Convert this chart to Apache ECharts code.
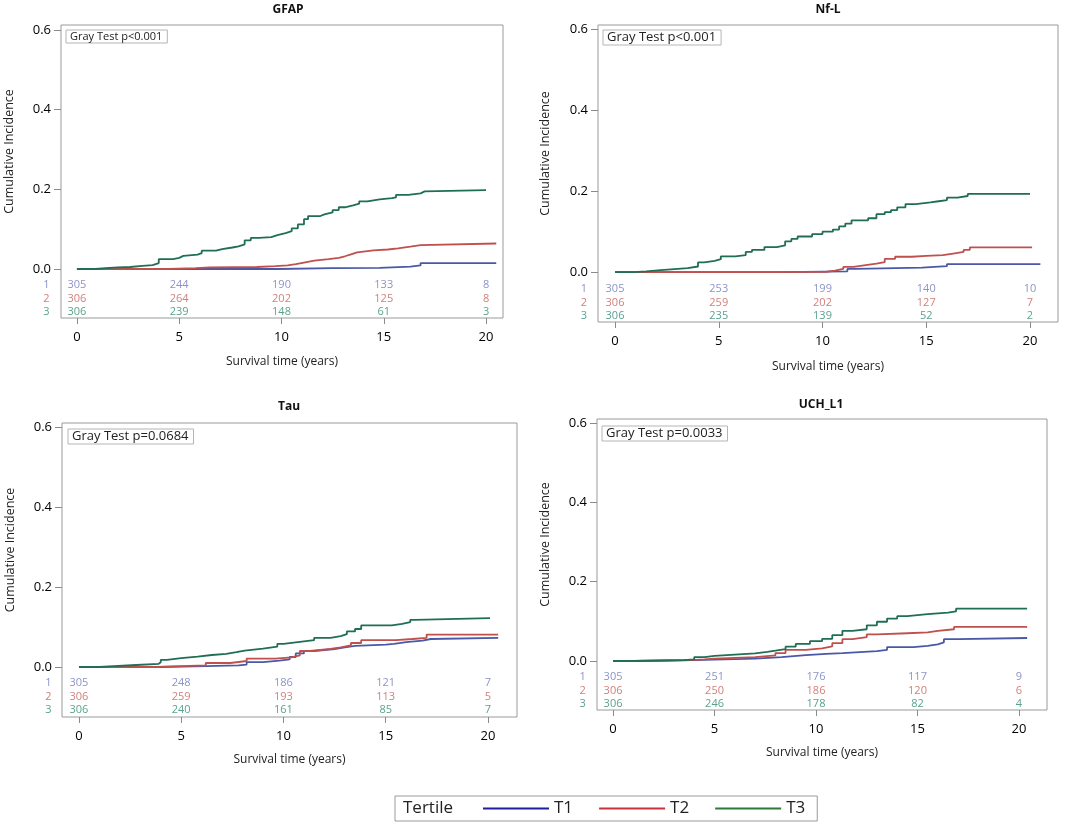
<!DOCTYPE html>
<html lang="en">
<head>
<meta charset="utf-8"/>
<title>Cumulative incidence by tertile</title>
<script src="https://cdn.jsdelivr.net/npm/echarts@6.0.0/dist/echarts.min.js"></script>
<style>
    html, body {
        height: 100%;
        margin: 0;
        background: #fff;
    }

    #chart {
        width: 1080px;
        height: 825px;
    }
</style>
</head>
<body>
<div id="chart"></div>
<script>
    // values: [years, cumulative incidence], each step starts at x
    const tertiles = ["T1", "T2", "T3"];
    const riskTimes = [0, 5, 10, 15, 20];
    const xTicks = [0, 5, 10, 15, 20];
    const yTicks = [0, 0.2, 0.4, 0.6];

    const gfapT1 = [[0, 0], [9.8, 0.002], [12.5, 0.003], [14.8, 0.006], [16.3, 0.009], [16.8, 0.015], [20.5, 0.015]];
    const gfapT2 = [[0, 0], [4.5, 0.002], [5.8, 0.004], [6.5, 0.005], [8.8, 0.007], [9.7, 0.009], [10.3, 0.012],
        [10.7, 0.016], [11.1, 0.021], [11.6, 0.025], [12.3, 0.028], [12.8, 0.032], [13.1, 0.037], [13.4, 0.042],
        [13.7, 0.047], [14.5, 0.049], [15.2, 0.052], [15.7, 0.056], [16.3, 0.06], [16.8, 0.064], [20.5, 0.064]];
    const gfapT3 = [[0, 0], [0.9, 0.002], [1.4, 0.004], [2.0, 0.005], [2.6, 0.008], [3.2, 0.01], [3.7, 0.015],
        [4.0, 0.025], [4.7, 0.028], [5.0, 0.033], [5.2, 0.036], [5.9, 0.04], [6.1, 0.046], [6.8, 0.05],
        [7.1, 0.054], [7.6, 0.057], [7.9, 0.062], [8.2, 0.072], [8.5, 0.078], [8.9, 0.08], [9.5, 0.085],
        [9.8, 0.09], [10.2, 0.095], [10.5, 0.102], [10.8, 0.112], [11.1, 0.125], [11.3, 0.133], [11.9, 0.137],
        [12.1, 0.142], [12.5, 0.148], [12.8, 0.155], [13.1, 0.16], [13.5, 0.164], [13.8, 0.17], [14.2, 0.175],
        [14.8, 0.178], [15.4, 0.18], [15.6, 0.186], [16.2, 0.19], [16.8, 0.195], [17.0, 0.198], [20.0, 0.198]];

    const nflT1 = [[0, 0], [8.0, 0.002], [11.2, 0.008], [11.6, 0.011], [14.8, 0.015], [16.0, 0.02], [20.5, 0.02]];
    const nflT2 = [[0, 0], [7.8, 0.001], [10.2, 0.004], [10.6, 0.008], [11.0, 0.013], [11.5, 0.017], [12.0, 0.021],
        [12.6, 0.025], [13.0, 0.033], [13.5, 0.038], [14.3, 0.04], [15.0, 0.042], [15.8, 0.046], [16.3, 0.05],
        [16.8, 0.055], [17.1, 0.061], [20.1, 0.061]];
    const nflT3 = [[0, 0], [0.9, 0.002], [1.5, 0.005], [2.2, 0.007], [2.7, 0.01], [3.5, 0.014], [4.0, 0.024],
        [4.3, 0.028], [4.8, 0.032], [5.1, 0.039], [5.8, 0.042], [6.3, 0.05], [6.6, 0.055], [7.2, 0.062],
        [7.8, 0.066], [8.2, 0.076], [8.5, 0.082], [8.8, 0.088], [9.5, 0.094], [10.0, 0.1], [10.5, 0.105],
        [10.8, 0.113], [11.1, 0.12], [11.4, 0.128], [12.2, 0.133], [12.6, 0.143], [13.0, 0.148], [13.3, 0.153],
        [13.6, 0.16], [14.0, 0.168], [14.5, 0.172], [15.2, 0.175], [15.6, 0.178], [16.0, 0.184], [16.5, 0.188],
        [17.0, 0.193], [20.0, 0.193]];

    const tauT1 = [[0, 0], [4.0, 0.002], [6.2, 0.004], [7.8, 0.006], [8.2, 0.012], [9.0, 0.016], [9.8, 0.019],
        [10.3, 0.025], [10.6, 0.034], [11.0, 0.04], [11.5, 0.045], [12.5, 0.049], [13.0, 0.053], [13.5, 0.056],
        [15.0, 0.058], [15.4, 0.062], [16.0, 0.066], [16.8, 0.07], [17.2, 0.073], [20.5, 0.073]];
    const tauT2 = [[0, 0], [3.8, 0.002], [5.0, 0.004], [6.2, 0.01], [7.4, 0.015], [8.2, 0.021], [9.6, 0.024],
        [10.4, 0.029], [10.8, 0.04], [11.3, 0.045], [12.3, 0.049], [12.8, 0.054], [13.3, 0.06], [13.8, 0.067],
        [15.5, 0.07], [16.3, 0.073], [17.0, 0.081], [20.5, 0.081]];
    const tauT3 = [[0, 0], [1.0, 0.002], [1.7, 0.005], [2.8, 0.008], [3.9, 0.012], [4.0, 0.018], [4.3, 0.022],
        [5.0, 0.026], [5.8, 0.03], [6.5, 0.033], [7.2, 0.037], [7.7, 0.041], [8.1, 0.046], [9.0, 0.051],
        [9.7, 0.058], [10.0, 0.063], [10.8, 0.067], [11.5, 0.073], [12.3, 0.077], [12.8, 0.082], [13.1, 0.089],
        [13.5, 0.095], [13.8, 0.104], [15.3, 0.108], [15.8, 0.112], [16.2, 0.118], [16.4, 0.122], [20.1, 0.122]];

    const uchT1 = [[0, 0], [1.0, 0.002], [4.0, 0.004], [5.5, 0.006], [7.0, 0.01], [8.3, 0.015], [9.5, 0.018],
        [10.5, 0.02], [11.3, 0.025], [13.0, 0.028], [13.5, 0.035], [14.8, 0.038], [15.5, 0.042], [16.0, 0.047],
        [16.3, 0.055], [17.0, 0.058], [20.4, 0.058]];
    const uchT2 = [[0, 0], [1.0, 0.002], [3.8, 0.004], [4.5, 0.006], [5.0, 0.008], [6.0, 0.01], [7.0, 0.014],
        [8.0, 0.02], [8.5, 0.028], [9.5, 0.032], [10.3, 0.037], [10.8, 0.045], [11.3, 0.055], [11.8, 0.06],
        [12.5, 0.067], [13.0, 0.07], [14.5, 0.072], [15.5, 0.076], [16.0, 0.08], [16.8, 0.086], [20.4, 0.086]];
    const uchT3 = [[0, 0], [1.0, 0.002], [3.5, 0.004], [4.0, 0.01], [4.5, 0.013], [5.0, 0.016], [6.0, 0.019],
        [7.0, 0.023], [7.6, 0.026], [8.0, 0.03], [8.5, 0.036], [9.0, 0.043], [9.7, 0.05], [10.3, 0.056],
        [10.8, 0.065], [11.3, 0.076], [11.8, 0.08], [12.5, 0.09], [13.0, 0.099], [13.5, 0.107], [14.0, 0.113],
        [14.5, 0.118], [15.5, 0.122], [16.5, 0.125], [16.9, 0.132], [20.4, 0.132]];

    // numbers at risk, one row per tertile, at riskTimes
    const gfapRisk = [[305, 244, 190, 133, 8], [306, 264, 202, 125, 8], [306, 239, 148, 61, 3]];
    const nflRisk = [[305, 253, 199, 140, 10], [306, 259, 202, 127, 7], [306, 235, 139, 52, 2]];
    const tauRisk = [[305, 248, 186, 121, 7], [306, 259, 193, 113, 5], [306, 240, 161, 85, 7]];
    const uchRisk = [[305, 251, 176, 117, 9], [306, 250, 186, 120, 6], [306, 246, 178, 82, 4]];

    const titles = ["GFAP", "Nf-L", "Tau", "UCH_L1"];
    const grayTests = ["Gray Test p<0.001", "Gray Test p<0.001", "Gray Test p=0.0684", "Gray Test p=0.0033"];

    // ---- layout ----
    const font = "'Open Sans', 'DejaVu Sans', sans-serif";
    const lineColors = ["#4a58a6", "#c0504d", "#1f6e55"];
    const numColors = ["#6f78b8", "#c4605a", "#2f8a70"];
    const legendColors = ["#1f1f9e", "#c8323a", "#2b7a3a"];
    const riskRowY = [-0.04, -0.075, -0.108];

    const panels = [
        {curves: [gfapT1, gfapT2, gfapT3], risk: gfapRisk,
            grid: {left: 61, top: 25, width: 442, height: 293}, x: [-0.78, 20.83], y: [-0.123, 0.6126],
            title: [288, 10], test: [66, 30, 11], xGap: 38, yGap: 45},
        {curves: [nflT1, nflT2, nflT3], risk: nflRisk,
            grid: {left: 598, top: 25, width: 460, height: 297}, x: [-0.82, 21.35], y: [-0.123, 0.61],
            title: [828, 10], test: [603, 30, 13], xGap: 39, yGap: 46},
        {curves: [tauT1, tauT2, tauT3], risk: tauRisk,
            grid: {left: 62, top: 423, width: 455, height: 294}, x: [-0.83, 21.42], y: [-0.125, 0.61],
            title: [289, 407], test: [68, 429, 13], xGap: 37, yGap: 45},
        {curves: [uchT1, uchT2, uchT3], risk: uchRisk,
            grid: {left: 597, top: 419, width: 450, height: 291}, x: [-0.79, 21.38], y: [-0.1235, 0.61],
            title: [821, 405], test: [602, 426, 13], xGap: 37, yGap: 45}
    ];

    const grids = [], xAxes = [], yAxes = [], series = [], graphics = [];

    panels.forEach((p, i) => {
        grids.push(Object.assign({show: true, borderColor: "#9a9a9a", borderWidth: 1}, p.grid));
        xAxes.push({
            gridIndex: i, type: "value", min: p.x[0], max: p.x[1],
            axisLine: {show: false, onZero: false},
            splitLine: {show: false},
            axisTick: {show: true, customValues: xTicks, length: 6, lineStyle: {color: "#8a8a8a"}},
            axisLabel: {customValues: xTicks, margin: 13, fontSize: 13, color: "#000", fontFamily: font},
            name: "Survival time (years)", nameLocation: "middle", nameGap: p.xGap,
            nameTextStyle: {fontSize: 12, color: "#222", fontFamily: font}
        });
        yAxes.push({
            gridIndex: i, type: "value", min: p.y[0], max: p.y[1],
            axisLine: {show: false, onZero: false},
            splitLine: {show: false},
            axisTick: {show: true, customValues: yTicks, length: 7, lineStyle: {color: "#8a8a8a"}},
            axisLabel: {customValues: yTicks, margin: 10, fontSize: 13, color: "#000", fontFamily: font,
                formatter: v => v.toFixed(1)},
            name: "Cumulative Incidence", nameLocation: "middle", nameGap: p.yGap,
            nameTextStyle: {fontSize: 12.5, color: "#222", fontFamily: font, padding: [0, 0, 0, 40]}
        });

        p.curves.forEach((c, k) => {
            series.push({
                name: tertiles[k], type: "line", step: "end", xAxisIndex: i, yAxisIndex: i,
                symbol: "none", data: c, z: 3 + k,
                lineStyle: {color: lineColors[k], width: 1.8}, itemStyle: {color: lineColors[k]}
            });
        });

        p.risk.forEach((row, k) => {
            const pts = [[-1.5, riskRowY[k], String(k + 1)]];
            riskTimes.forEach((t, j) => pts.push([t, riskRowY[k], String(row[j])]));
            series.push({
                name: "risk" + k, type: "scatter", xAxisIndex: i, yAxisIndex: i,
                symbolSize: 0, clip: false, silent: true, data: pts,
                label: {show: true, position: "inside", formatter: d => d.value[2],
                    color: numColors[k], fontSize: 11, fontFamily: font}
            });
        });

        graphics.push({
            type: "text", x: p.title[0], y: p.title[1],
            style: {text: titles[i], fill: "#111", font: "bold 12px " + font,
                align: "center", verticalAlign: "middle"}
        });
        graphics.push({
            type: "text", x: p.test[0], y: p.test[1],
            style: {text: grayTests[i], fill: "#222", font: p.test[2] + "px " + font,
                borderColor: "#b5b5b5", borderWidth: 1, padding: [1, 5, 1, 4]}
        });
    });

    graphics.push({
        type: "text", x: 403, y: 808,
        style: {text: "Tertile", fill: "#222", font: "17px " + font, verticalAlign: "middle"}
    });

    const chart = echarts.init(document.getElementById("chart"));
    chart.setOption({
        animation: false,
        grid: grids,
        xAxis: xAxes,
        yAxis: yAxes,
        series: series,
        graphic: graphics,
        legend: {
            left: 395, top: 796, selectedMode: false,
            padding: [4, 12, 4, 88],
            borderColor: "#9a9a9a", borderWidth: 1,
            icon: "rect", itemWidth: 66, itemHeight: 2, itemGap: 26,
            textStyle: {fontSize: 17, color: "#222", fontFamily: font},
            data: tertiles.map((t, k) => ({name: t, itemStyle: {color: legendColors[k]}}))
        }
    });
    window.addEventListener("resize", function () {
        chart.resize();
    });
</script>
</body>
</html>
